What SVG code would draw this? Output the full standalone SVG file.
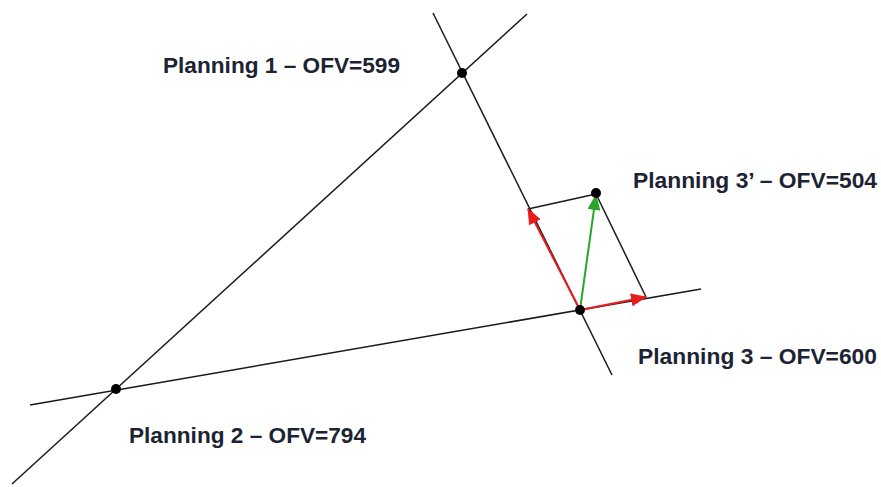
<svg xmlns="http://www.w3.org/2000/svg" width="881" height="487" viewBox="0 0 881 487">
  <style>
    .ln { stroke: #1a1a1a; stroke-width: 1.5; fill: none; }
    .red { stroke: #e81c1c; stroke-width: 2; fill: none; }
    .grn { stroke: #2aa52a; stroke-width: 2; fill: none; }
    .dot { fill: #000; }
    .lbl { font-family: "Liberation Sans", Arial, sans-serif; font-weight: bold; font-size: 22px; fill: #1c2433; }
  </style>
  <defs>
    <marker id="ahR" markerUnits="userSpaceOnUse" markerWidth="16" markerHeight="13" refX="15" refY="6.5" orient="auto">
      <path d="M0,0 L16,6.5 L0,13 Z" fill="#e81c1c"/>
    </marker>
    <marker id="ahG" markerUnits="userSpaceOnUse" markerWidth="16" markerHeight="13" refX="15" refY="6.5" orient="auto">
      <path d="M0,0 L16,6.5 L0,13 Z" fill="#2aa52a"/>
    </marker>
  </defs>
  <g id="connectors">
    <line class="ln" x1="12" y1="484" x2="527" y2="14"/>
    <line class="ln" x1="433" y1="13" x2="612" y2="375"/>
    <line class="ln" x1="30" y1="405" x2="701" y2="289"/>
    <line class="ln" x1="528" y1="209" x2="596" y2="194"/>
    <line class="ln" x1="596" y1="194" x2="646" y2="297"/>
    <line class="red" x1="580" y1="310" x2="528" y2="209" marker-end="url(#ahR)"/>
    <line class="red" x1="580" y1="310" x2="646" y2="297" marker-end="url(#ahR)"/>
    <line class="grn" x1="580" y1="310" x2="596" y2="195" marker-end="url(#ahG)"/>
  </g>
  <g id="planning1">
    <circle class="dot" cx="462" cy="73" r="5"/>
    <text class="lbl" x="163" y="73" textLength="237" lengthAdjust="spacingAndGlyphs">Planning 1 – OFV=599</text>
  </g>
  <g id="planning2">
    <circle class="dot" cx="116" cy="389" r="5"/>
    <text class="lbl" x="129" y="443" textLength="237" lengthAdjust="spacingAndGlyphs">Planning 2 – OFV=794</text>
  </g>
  <g id="planning3">
    <circle class="dot" cx="580" cy="310" r="5"/>
    <text class="lbl" x="638" y="364" textLength="239" lengthAdjust="spacingAndGlyphs">Planning 3 – OFV=600</text>
  </g>
  <g id="planning3p">
    <circle class="dot" cx="596" cy="193" r="5"/>
    <text class="lbl" x="633" y="188" textLength="244" lengthAdjust="spacingAndGlyphs">Planning 3’ – OFV=504</text>
  </g>
</svg>
